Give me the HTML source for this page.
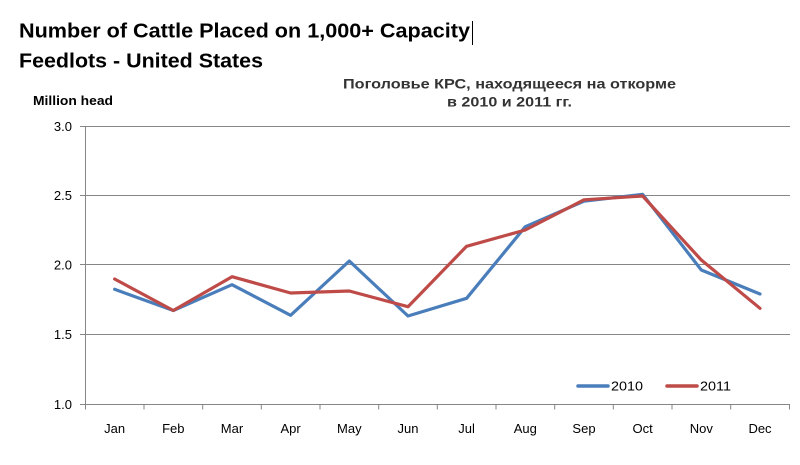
<!DOCTYPE html>
<html>
<head>
<meta charset="utf-8">
<style>
html,body{margin:0;padding:0;background:#fff;}
svg{display:block;}
</style>
</head>
<body>
<svg width="800" height="465" viewBox="0 0 800 465" xmlns="http://www.w3.org/2000/svg">
<rect x="0" y="0" width="800" height="465" fill="#ffffff"/>
<!-- Main title -->
<text x="19" y="37.3" font-family="Liberation Sans, sans-serif" font-weight="bold" font-size="20.5" fill="#000" textLength="451" lengthAdjust="spacingAndGlyphs">Number of Cattle Placed on 1,000+ Capacity</text>
<line x1="472.5" y1="21" x2="472.5" y2="45" stroke="#000" stroke-width="1"/>
<text x="19" y="67.3" font-family="Liberation Sans, sans-serif" font-weight="bold" font-size="20.5" fill="#000" textLength="244" lengthAdjust="spacingAndGlyphs">Feedlots - United States</text>
<!-- Russian title -->
<text x="509.5" y="88.3" text-anchor="middle" font-family="Liberation Sans, sans-serif" font-weight="bold" font-size="14" fill="#333" textLength="333" lengthAdjust="spacingAndGlyphs">Поголовье КРС, находящееся на откорме</text>
<text x="509.5" y="106.7" text-anchor="middle" font-family="Liberation Sans, sans-serif" font-weight="bold" font-size="14" fill="#333" textLength="125" lengthAdjust="spacingAndGlyphs">в 2010 и 2011 гг.</text>
<!-- Y unit -->
<text x="33" y="105" font-family="Liberation Sans, sans-serif" font-weight="bold" font-size="12.5" fill="#000" textLength="80" lengthAdjust="spacingAndGlyphs">Million head</text>
<!-- Gridlines -->
<g stroke="#868686" stroke-width="1" fill="none">
<line x1="80" y1="126.5" x2="790" y2="126.5"/>
<line x1="80" y1="195.5" x2="790" y2="195.5"/>
<line x1="80" y1="264.5" x2="790" y2="264.5"/>
<line x1="80" y1="334.5" x2="790" y2="334.5"/>
<line x1="80" y1="404.5" x2="790" y2="404.5"/>
<line x1="85.5" y1="126.5" x2="85.5" y2="409.5"/>
<line x1="144" y1="404.5" x2="144" y2="409.5"/>
<line x1="202.7" y1="404.5" x2="202.7" y2="409.5"/>
<line x1="261.3" y1="404.5" x2="261.3" y2="409.5"/>
<line x1="320" y1="404.5" x2="320" y2="409.5"/>
<line x1="378.7" y1="404.5" x2="378.7" y2="409.5"/>
<line x1="437.3" y1="404.5" x2="437.3" y2="409.5"/>
<line x1="496" y1="404.5" x2="496" y2="409.5"/>
<line x1="554.7" y1="404.5" x2="554.7" y2="409.5"/>
<line x1="613.3" y1="404.5" x2="613.3" y2="409.5"/>
<line x1="672" y1="404.5" x2="672" y2="409.5"/>
<line x1="730.7" y1="404.5" x2="730.7" y2="409.5"/>
<line x1="789.5" y1="404.5" x2="789.5" y2="409.5"/>
</g>
<!-- Y labels -->
<g font-family="Liberation Sans, sans-serif" font-size="13" fill="#000" text-anchor="end">
<text x="72" y="131">3.0</text>
<text x="72" y="200">2.5</text>
<text x="72" y="269.5">2.0</text>
<text x="72" y="339">1.5</text>
<text x="72" y="409">1.0</text>
</g>
<!-- X labels -->
<g font-family="Liberation Sans, sans-serif" font-size="13" fill="#000" text-anchor="middle">
<text x="114.6" y="433">Jan</text>
<text x="173.3" y="433">Feb</text>
<text x="232" y="433">Mar</text>
<text x="290.6" y="433">Apr</text>
<text x="349.3" y="433">May</text>
<text x="408" y="433">Jun</text>
<text x="466.6" y="433">Jul</text>
<text x="525.3" y="433">Aug</text>
<text x="584" y="433">Sep</text>
<text x="642.6" y="433">Oct</text>
<text x="701.3" y="433">Nov</text>
<text x="760" y="433">Dec</text>
</g>
<!-- Series -->
<polyline fill="none" stroke="#4A7EBB" stroke-width="3.2" stroke-linejoin="round" stroke-linecap="round"
points="114.6,289.3 173.3,310.5 232,284.7 290.6,315.3 349.3,261 408,316 466.6,298.3 525.3,226.7 584,201.2 642.6,194.3 701.3,270 760,294"/>
<polyline fill="none" stroke="#BE4B48" stroke-width="3.2" stroke-linejoin="round" stroke-linecap="round"
points="114.6,279 173.3,310.5 232,276.7 290.6,293 349.3,291 408,306.7 466.6,246.3 525.3,230 584,199.8 642.6,196 701.3,260 760,308.3"/>
<!-- Legend -->
<line x1="578" y1="386" x2="608" y2="386" stroke="#4A7EBB" stroke-width="3.5" stroke-linecap="round"/>
<text x="611" y="390.5" font-family="Liberation Sans, sans-serif" font-size="13" fill="#000" textLength="32" lengthAdjust="spacingAndGlyphs">2010</text>
<line x1="667" y1="386" x2="697" y2="386" stroke="#BE4B48" stroke-width="3.5" stroke-linecap="round"/>
<text x="700" y="390.5" font-family="Liberation Sans, sans-serif" font-size="13" fill="#000" textLength="31" lengthAdjust="spacingAndGlyphs">2011</text>
</svg>
</body>
</html>
